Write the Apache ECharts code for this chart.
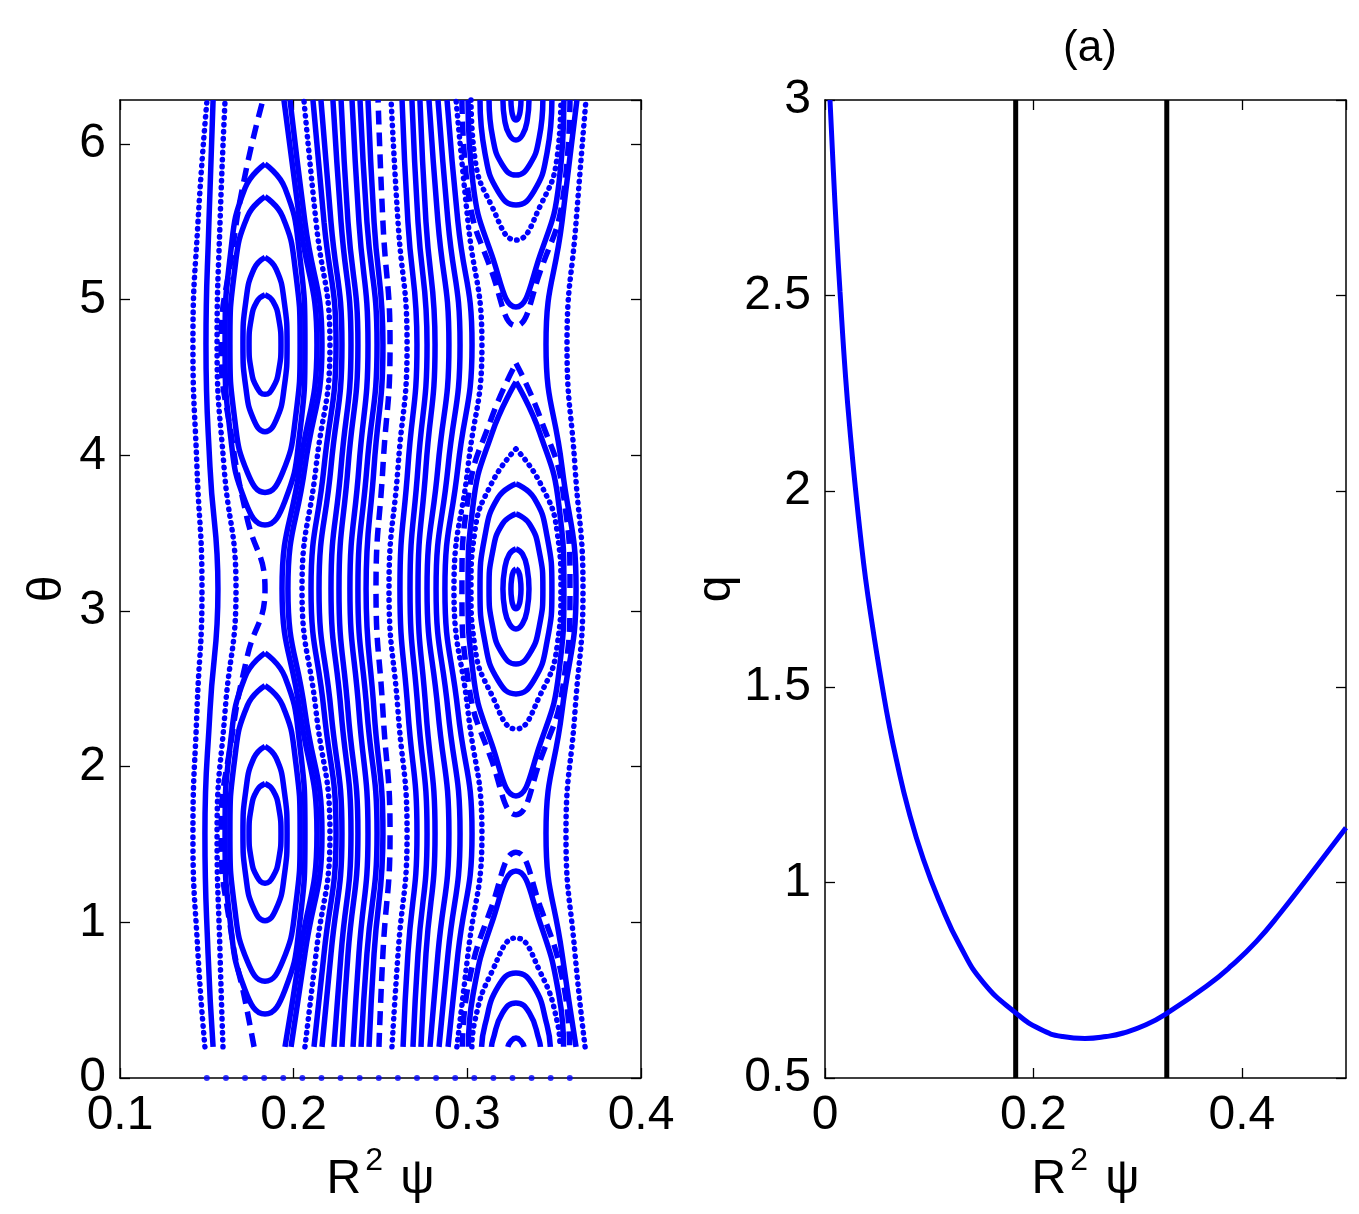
<!DOCTYPE html>
<html>
<head>
<meta charset="utf-8">
<script src="https://cdn.jsdelivr.net/npm/echarts/dist/echarts.min.js"></script>
<style>
html, body { margin: 0; padding: 0; background: #fff; }
#main { width: 1359px; height: 1214px; }
</style>
</head>
<body>
<div id="main"></div>
<script>
// theta samples used by the open (KAM) curves
var thetaGrid = [0.2, 0.8, 1.571, 2.356, 3.142, 3.927, 4.712, 5.498, 6.283];

// curves left of the left island chain (x at each thetaGrid value)
var leftKam = [
    [0.1489, 0.1449, 0.1420, 0.1443, 0.1472, 0.1443, 0.1420, 0.1449, 0.1501],
    [0.1536, 0.1507, 0.1489, 0.1518, 0.1564, 0.1518, 0.1495, 0.1512, 0.1536],
    [0.1593, 0.1576, 0.1559, 0.1605, 0.1668, 0.1599, 0.1559, 0.1576, 0.1605]
];

// left separatrix (dashed)
var leftSepTheta = [0.2, 0.5, 0.9, 1.571, 2.2, 2.7, 3.142, 3.6, 4.1, 4.712, 5.3, 5.8, 6.283];
var leftSepX = [0.1772, 0.1720, 0.1645, 0.1582, 0.1645, 0.1731, 0.1835, 0.1731, 0.1645, 0.1582, 0.1645, 0.1720, 0.1823];

// curves between the two island chains
var middleKam = [
    [0.1950, 0.2036, 0.2134, 0.2036, 0.1933, 0.2036, 0.2134, 0.2036, 0.1944],
    [0.1985, 0.2065, 0.2163, 0.2065, 0.1967, 0.2065, 0.2163, 0.2065, 0.1979],
    [0.2065, 0.2129, 0.2209, 0.2129, 0.2048, 0.2129, 0.2209, 0.2129, 0.2059],
    [0.2117, 0.2175, 0.2244, 0.2175, 0.2100, 0.2175, 0.2244, 0.2175, 0.2111],
    [0.2163, 0.2215, 0.2278, 0.2215, 0.2146, 0.2215, 0.2278, 0.2215, 0.2157],
    [0.2232, 0.2273, 0.2330, 0.2273, 0.2215, 0.2273, 0.2330, 0.2273, 0.2226],
    [0.2278, 0.2313, 0.2370, 0.2313, 0.2261, 0.2313, 0.2370, 0.2313, 0.2273],
    [0.2342, 0.2376, 0.2428, 0.2376, 0.2324, 0.2376, 0.2428, 0.2376, 0.2336],
    [0.2388, 0.2422, 0.2480, 0.2422, 0.2370, 0.2422, 0.2480, 0.2422, 0.2382],
    [0.2434, 0.2463, 0.2514, 0.2463, 0.2417, 0.2463, 0.2514, 0.2463, 0.2428],
    [0.2491, 0.2514, 0.2555, 0.2514, 0.2474, 0.2514, 0.2555, 0.2514, 0.2486],
    [0.2566, 0.2601, 0.2653, 0.2601, 0.2549, 0.2601, 0.2653, 0.2601, 0.2561],
    [0.2630, 0.2658, 0.2710, 0.2658, 0.2612, 0.2658, 0.2710, 0.2658, 0.2624],
    [0.2687, 0.2716, 0.2768, 0.2716, 0.2670, 0.2716, 0.2768, 0.2716, 0.2681],
    [0.2733, 0.2762, 0.2814, 0.2762, 0.2716, 0.2762, 0.2814, 0.2762, 0.2727],
    [0.2785, 0.2831, 0.2894, 0.2831, 0.2768, 0.2831, 0.2894, 0.2831, 0.2779],
    [0.2837, 0.2889, 0.2958, 0.2889, 0.2820, 0.2889, 0.2958, 0.2889, 0.2831],
    [0.2889, 0.2946, 0.3027, 0.2946, 0.2871, 0.2946, 0.3027, 0.2946, 0.2883],
    [0.2940, 0.3004, 0.3084, 0.3004, 0.2923, 0.3004, 0.3084, 0.3004, 0.2935]
];
var middleDotted = [2, 11, 18];
var middleDashed = [10];

// curves right of the right island chain
var rightKam = [
    [0.3626, 0.3545, 0.3453, 0.3545, 0.3626, 0.3545, 0.3453, 0.3545, 0.3631],
    [0.3678, 0.3620, 0.3568, 0.3620, 0.3666, 0.3620, 0.3574, 0.3626, 0.3683]
];

// left island chain: contour x values, shared by both islands
var leftIslandX = [
    [0.1835, 0.1881, 0.1915, 0.1927, 0.1915, 0.1881, 0.1835, 0.1789, 0.1755, 0.1743, 0.1755, 0.1789, 0.1835],
    [0.1835, 0.1899, 0.1945, 0.1962, 0.1945, 0.1899, 0.1835, 0.1771, 0.1725, 0.1708, 0.1725, 0.1771, 0.1835],
    [0.1835, 0.1936, 0.2010, 0.2037, 0.2010, 0.1936, 0.1835, 0.1734, 0.1660, 0.1633, 0.1660, 0.1734, 0.1835],
    [0.1835, 0.1950, 0.2034, 0.2065, 0.2034, 0.1950, 0.1835, 0.1720, 0.1636, 0.1605, 0.1636, 0.1720, 0.1835]
];
var leftUpperTheta = [
    [5.032, 4.989, 4.872, 4.712, 4.552, 4.435, 4.392, 4.435, 4.552, 4.712, 4.872, 4.989, 5.032],
    [5.272, 5.197, 4.992, 4.712, 4.432, 4.227, 4.152, 4.227, 4.432, 4.712, 4.992, 5.197, 5.272],
    [5.662, 5.535, 5.187, 4.712, 4.237, 3.889, 3.762, 3.889, 4.237, 4.712, 5.187, 5.535, 5.662],
    [5.872, 5.717, 5.292, 4.712, 4.132, 3.707, 3.552, 3.707, 4.132, 4.712, 5.292, 5.717, 5.872]
];
var leftLowerTheta = [
    [1.891, 1.848, 1.731, 1.571, 1.411, 1.294, 1.251, 1.294, 1.411, 1.571, 1.731, 1.848, 1.891],
    [2.131, 2.056, 1.851, 1.571, 1.291, 1.086, 1.011, 1.086, 1.291, 1.571, 1.851, 2.056, 2.131],
    [2.521, 2.394, 2.046, 1.571, 1.096, 0.748, 0.621, 0.748, 1.096, 1.571, 2.046, 2.394, 2.521],
    [2.731, 2.576, 2.151, 1.571, 0.991, 0.566, 0.411, 0.566, 0.991, 1.571, 2.151, 2.576, 2.731]
];

// right island chain around theta = pi
var rightMidX = [
    [0.3280, 0.3295, 0.3305, 0.3309, 0.3305, 0.3295, 0.3280, 0.3265, 0.3255, 0.3251, 0.3255, 0.3265, 0.3280],
    [0.3280, 0.3318, 0.3345, 0.3355, 0.3345, 0.3318, 0.3280, 0.3242, 0.3215, 0.3205, 0.3215, 0.3242, 0.3280],
    [0.3280, 0.3358, 0.3414, 0.3435, 0.3414, 0.3358, 0.3280, 0.3202, 0.3146, 0.3125, 0.3146, 0.3202, 0.3280],
    [0.3280, 0.3384, 0.3459, 0.3487, 0.3459, 0.3384, 0.3280, 0.3176, 0.3101, 0.3073, 0.3101, 0.3176, 0.3280],
    [0.3280, 0.3422, 0.3518, 0.3539, 0.3518, 0.3422, 0.3280, 0.3138, 0.3042, 0.3021, 0.3042, 0.3138, 0.3280],
    [0.3280, 0.3418, 0.3528, 0.3556, 0.3528, 0.3418, 0.3280, 0.3142, 0.3032, 0.3004, 0.3032, 0.3142, 0.3280],
    [0.3280, 0.3420, 0.3554, 0.3591, 0.3554, 0.3420, 0.3280, 0.3140, 0.3006, 0.2969, 0.3006, 0.3140, 0.3280]
];
var rightMidTheta = [
    [3.270, 3.253, 3.206, 3.142, 3.078, 3.031, 3.014, 3.031, 3.078, 3.142, 3.206, 3.253, 3.270],
    [3.399, 3.365, 3.271, 3.142, 3.013, 2.919, 2.885, 2.919, 3.013, 3.142, 3.271, 3.365, 3.399],
    [3.624, 3.559, 3.383, 3.142, 2.901, 2.725, 2.660, 2.725, 2.901, 3.142, 3.383, 3.559, 3.624],
    [3.817, 3.727, 3.480, 3.142, 2.804, 2.557, 2.467, 2.557, 2.804, 3.142, 3.480, 3.727, 3.817],
    [4.042, 3.817, 3.502, 3.142, 2.782, 2.467, 2.242, 2.467, 2.782, 3.142, 3.502, 3.817, 4.042],
    [4.472, 4.142, 3.672, 3.142, 2.612, 2.142, 1.812, 2.142, 2.612, 3.142, 3.672, 4.142, 4.472],
    [4.592, 4.242, 3.742, 3.142, 2.542, 2.042, 1.692, 2.042, 2.542, 3.142, 3.742, 4.242, 4.592]
];
// same chain, O-point at theta = 2pi (upper part)
var rightTopX = [
    [0.3251, 0.3255, 0.3265, 0.3280, 0.3295, 0.3305, 0.3309],
    [0.3205, 0.3215, 0.3242, 0.3280, 0.3318, 0.3345, 0.3355],
    [0.3125, 0.3146, 0.3202, 0.3280, 0.3358, 0.3414, 0.3435],
    [0.3073, 0.3101, 0.3176, 0.3280, 0.3384, 0.3459, 0.3487],
    [0.3021, 0.3042, 0.3138, 0.3280, 0.3422, 0.3518, 0.3539],
    [0.3004, 0.3032, 0.3142, 0.3280, 0.3418, 0.3528, 0.3556],
    [0.2969, 0.3006, 0.3140, 0.3280, 0.3420, 0.3554, 0.3591]
];
var rightTopTheta = [
    [6.283, 6.219, 6.172, 6.155, 6.172, 6.219, 6.283],
    [6.283, 6.154, 6.060, 6.026, 6.060, 6.154, 6.283],
    [6.283, 6.042, 5.866, 5.801, 5.866, 6.042, 6.283],
    [6.283, 5.945, 5.698, 5.608, 5.698, 5.945, 6.283],
    [6.283, 5.923, 5.608, 5.383, 5.608, 5.923, 6.283],
    [6.283, 5.753, 5.283, 4.953, 5.283, 5.753, 6.283],
    [6.283, 5.683, 5.183, 4.833, 5.183, 5.683, 6.283]
];
// same chain, O-point at theta = 0 (lower part, innermost contour lies below 0.2)
var rightBottomX = [
    null,
    [0.3233, 0.3250, 0.3280, 0.3310, 0.3327],
    [0.3139, 0.3146, 0.3202, 0.3280, 0.3358, 0.3414, 0.3421],
    [0.3082, 0.3101, 0.3176, 0.3280, 0.3384, 0.3459, 0.3478],
    [0.3026, 0.3042, 0.3138, 0.3280, 0.3422, 0.3518, 0.3534],
    [0.3006, 0.3032, 0.3142, 0.3280, 0.3418, 0.3528, 0.3554],
    [0.2971, 0.3006, 0.3140, 0.3280, 0.3420, 0.3554, 0.3589]
];
var rightBottomTheta = [
    null,
    [0.2, 0.236, 0.257, 0.236, 0.2],
    [0.2, 0.241, 0.417, 0.482, 0.417, 0.241, 0.2],
    [0.2, 0.338, 0.585, 0.675, 0.585, 0.338, 0.2],
    [0.2, 0.36, 0.675, 0.9, 0.675, 0.36, 0.2],
    [0.2, 0.53, 1.0, 1.33, 1.0, 0.53, 0.2],
    [0.2, 0.6, 1.1, 1.45, 1.1, 0.6, 0.2]
];
var rightDotted = [4];
var rightDashed = [6];

// starting points on theta = 0
var startX = [0.150, 0.161, 0.172, 0.183, 0.194, 0.205, 0.216, 0.227, 0.238, 0.249,
              0.260, 0.271, 0.282, 0.293, 0.304, 0.315, 0.326, 0.337, 0.348, 0.359];

// safety factor profile (right panel)
var qPsi = [0.0048, 0.0080, 0.0112, 0.0144, 0.0198, 0.0250, 0.0295, 0.0340, 0.0390, 0.0450,
            0.0500, 0.0550, 0.0610, 0.0688, 0.0800, 0.0944, 0.1104, 0.1296, 0.1520, 0.1833,
            0.2063, 0.2280, 0.2495, 0.2700, 0.2863, 0.3080, 0.3285, 0.3663, 0.3900, 0.4143,
            0.4380, 0.4623, 0.4810, 0.5000];
var qVal = [3.0, 2.82, 2.655, 2.51, 2.29, 2.125, 2.0, 1.887, 1.775, 1.665,
            1.58, 1.50, 1.41, 1.31, 1.186, 1.059, 0.948, 0.838, 0.744, 0.666,
            0.625, 0.606, 0.601, 0.606, 0.615, 0.636, 0.666, 0.735, 0.787, 0.850,
            0.925, 1.008, 1.073, 1.140];
var resonantPsi = [0.183, 0.328];

var FONT = 'Liberation Sans, Arial, sans-serif';
var BLUE = '#0000ff';

var myChart = echarts.init(document.getElementById('main'));

function lineSeries(points, kind) {
    var ls = { color: BLUE, width: 5.5 };
    if (kind === 'dotted') {
        ls.type = [0.5, 6.5];
        ls.cap = 'round';
    } else if (kind === 'dashed') {
        ls.type = [14, 8];
    }
    return {
        type: 'line',
        xAxisIndex: 0,
        yAxisIndex: 0,
        data: points,
        smooth: 0.5,
        symbol: 'none',
        clip: false,
        silent: true,
        lineStyle: ls
    };
}

function zip(xs, ts) {
    return xs.map(function (x, i) { return [x, ts[i]]; });
}

function kindOf(i, dotted, dashed) {
    if (dotted.indexOf(i) >= 0) return 'dotted';
    if (dashed.indexOf(i) >= 0) return 'dashed';
    return 'solid';
}

var series = [];

leftKam.forEach(function (xs, i) {
    series.push(lineSeries(zip(xs, thetaGrid), i === 1 ? 'solid' : 'dotted'));
});
series.push(lineSeries(zip(leftSepX, leftSepTheta), 'dashed'));

middleKam.forEach(function (xs, i) {
    series.push(lineSeries(zip(xs, thetaGrid), kindOf(i, middleDotted, middleDashed)));
});

rightKam.forEach(function (xs, i) {
    series.push(lineSeries(zip(xs, thetaGrid), i === 1 ? 'dotted' : 'solid'));
});

leftIslandX.forEach(function (xs, i) {
    series.push(lineSeries(zip(xs, leftUpperTheta[i]), 'solid'));
    series.push(lineSeries(zip(xs, leftLowerTheta[i]), 'solid'));
});

[[rightMidX, rightMidTheta], [rightTopX, rightTopTheta], [rightBottomX, rightBottomTheta]].forEach(function (g) {
    g[0].forEach(function (xs, i) {
        if (!xs) return;
        series.push(lineSeries(zip(xs, g[1][i]), kindOf(i, rightDotted, rightDashed)));
    });
});

series.push({
    type: 'scatter',
    xAxisIndex: 0,
    yAxisIndex: 0,
    data: startX.map(function (x) { return [x, 0]; }),
    symbolSize: 6,
    clip: false,
    silent: true,
    itemStyle: { color: BLUE }
});

// right panel: resonant surfaces and q profile
resonantPsi.forEach(function (x) {
    series.push({
        type: 'line',
        xAxisIndex: 2,
        yAxisIndex: 2,
        data: [[x, 0.5], [x, 3]],
        symbol: 'none',
        silent: true,
        lineStyle: { color: '#000', width: 5 }
    });
});
series.push({
    type: 'line',
    xAxisIndex: 2,
    yAxisIndex: 2,
    data: zip(qPsi, qVal),
    smooth: 0.5,
    symbol: 'none',
    silent: true,
    lineStyle: { color: BLUE, width: 5 }
});

var axisLine = { onZero: false, lineStyle: { color: '#000', width: 1.5 } };
var tick = { inside: true, length: 10, lineStyle: { color: '#000', width: 1.3 } };
function label(showMax) {
    return { fontSize: 48, color: '#000', fontFamily: FONT, margin: 14, showMaxLabel: showMax };
}
var nameStyle = {
    fontSize: 48, color: '#000', fontFamily: FONT,
    rich: {
        r: { fontSize: 48, fontFamily: FONT, color: '#000', lineHeight: 70 },
        s: { fontSize: 32, fontFamily: FONT, color: '#000', lineHeight: 32, verticalAlign: 'top', padding: [0, 4, 0, 4] }
    }
};
var psiName = '{r|R}{s|2}{r| ψ}';

function mirror(base, pos) {
    return Object.assign({}, base, {
        position: pos,
        axisLabel: { show: false },
        name: '',
        axisTick: tick
    });
}

var x0 = {
    gridIndex: 0, type: 'value', min: 0.1, max: 0.4, interval: 0.1,
    axisLine: axisLine, axisTick: tick, axisLabel: label(true), splitLine: { show: false },
    name: psiName, nameLocation: 'middle', nameGap: 62, nameTextStyle: nameStyle
};
var x1 = {
    gridIndex: 1, type: 'value', min: 0, max: 0.5, interval: 0.2,
    axisLine: axisLine, axisTick: tick, axisLabel: label(false), splitLine: { show: false },
    name: psiName, nameLocation: 'middle', nameGap: 62, nameTextStyle: nameStyle
};
var y0 = {
    gridIndex: 0, type: 'value', min: 0, max: 6.2832, interval: 1,
    axisLine: axisLine, axisTick: tick, axisLabel: label(false), splitLine: { show: false },
    name: 'θ', nameLocation: 'middle', nameGap: 48, nameRotate: 90,
    nameTextStyle: { fontSize: 48, color: '#000', fontFamily: FONT }
};
var y1 = {
    gridIndex: 1, type: 'value', min: 0.5, max: 3, interval: 0.5,
    axisLine: axisLine, axisTick: tick, axisLabel: label(true), splitLine: { show: false },
    name: 'q', nameLocation: 'middle', nameGap: 84, nameRotate: 90,
    nameTextStyle: { fontSize: 48, color: '#000', fontFamily: FONT }
};

var option = {
    backgroundColor: '#fff',
    animation: false,
    title: {
        text: '(a)', left: 1085, top: 22, textAlign: 'center',
        textStyle: { fontSize: 44, fontWeight: 'normal', fontFamily: FONT, color: '#000' }
    },
    grid: [
        { left: 120, top: 100, width: 521, height: 978 },
        { left: 825, top: 100, width: 521, height: 978 }
    ],
    xAxis: [x0, mirror(x0, 'top'), x1, mirror(x1, 'top')],
    yAxis: [y0, mirror(y0, 'right'), y1, mirror(y1, 'right')],
    series: series
};
myChart.setOption(option);
</script>
</body>
</html>
